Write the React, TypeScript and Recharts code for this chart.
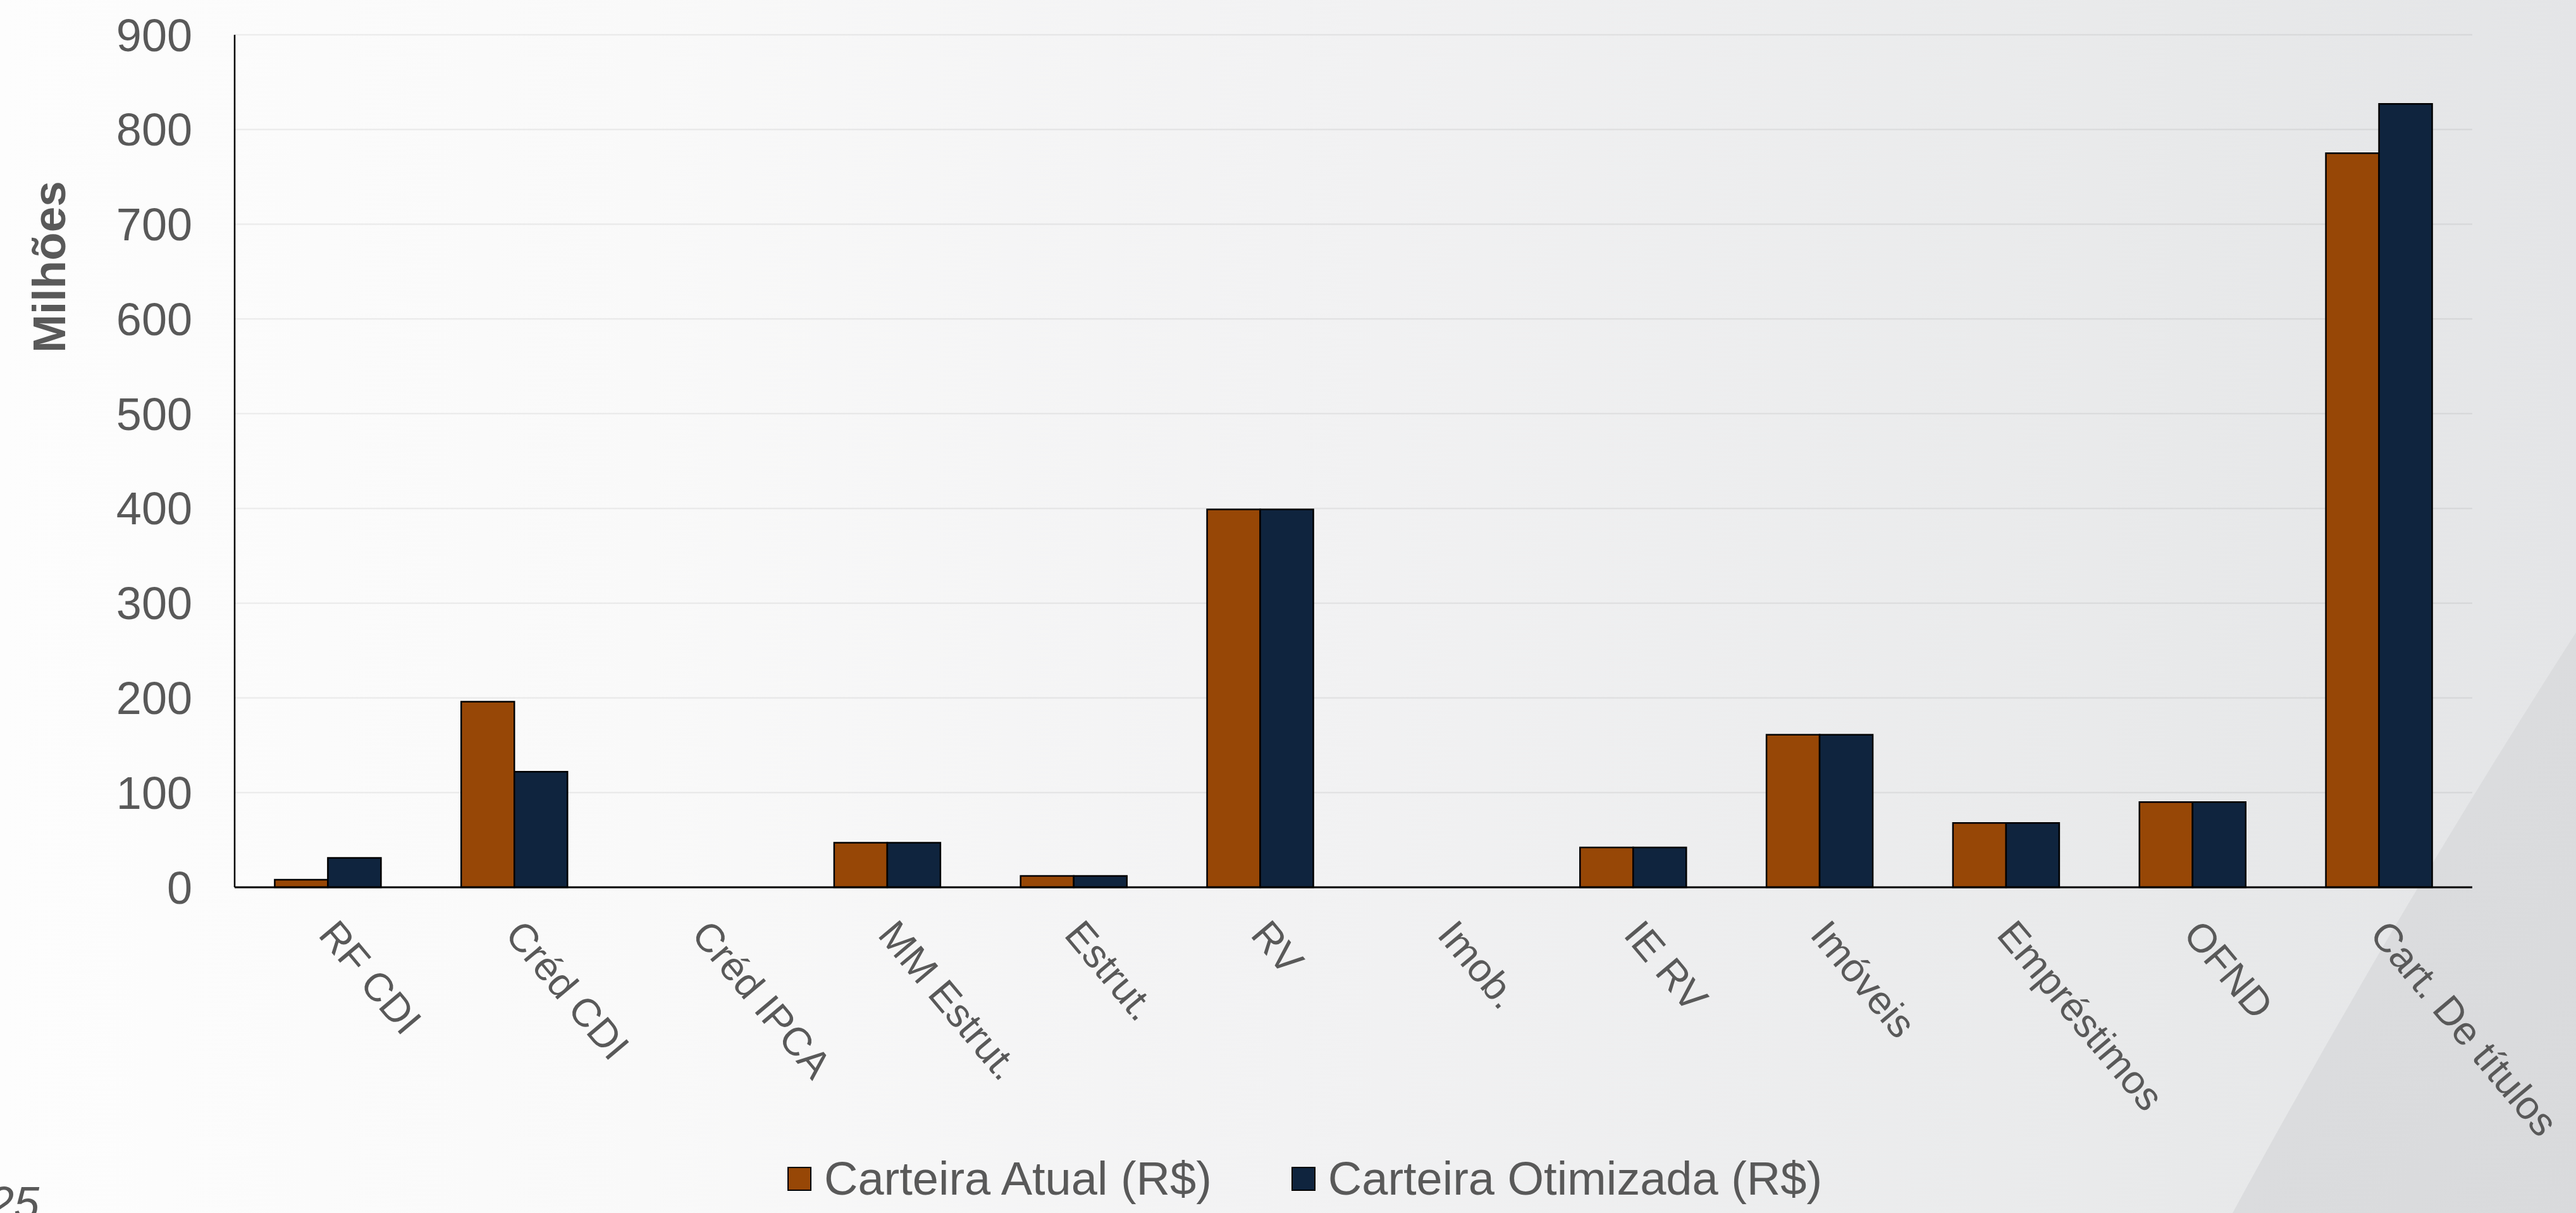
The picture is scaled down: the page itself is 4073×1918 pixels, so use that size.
import React from 'react';
import { BarChart, Bar, XAxis, YAxis, CartesianGrid } from 'recharts';

const FONT = '"Liberation Sans", Arial, Helvetica, sans-serif';
const TEXT_COLOR = '#595959';

const categories = [
  'RF CDI',
  'Créd CDI',
  'Créd IPCA',
  'MM Estrut.',
  'Estrut.',
  'RV',
  'Imob.',
  'IE RV',
  'Imóveis',
  'Empréstimos',
  'OFND',
  'Cart. De títulos',
];
const carteiraAtual = [8, 196, 0, 47, 12, 399, 0, 42, 161, 68, 90, 775];
const carteiraOtimizada = [31, 122, 0, 47, 12, 399, 0, 42, 161, 68, 90, 827];
const yTicks = [0, 100, 200, 300, 400, 500, 600, 700, 800, 900];
const seriesKeys = ['atual', 'otimizada'];
const seriesNames = ['Carteira Atual (R$)', 'Carteira Otimizada (R$)'];
const seriesColors = ['#974706', '#0F243E'];
const yAxisTitle = 'Milhões';
const pageNumber = '25';

const data = categories.map((c, i) => ({
  category: c,
  atual: carteiraAtual[i],
  otimizada: carteiraOtimizada[i],
}));

const W = 4073;
const H = 1918;

const XTick = (props: any) => {
  const { x, y, payload } = props;
  const tx = x - 17;
  const ty = y + 76;
  return (
    <text
      x={tx}
      y={ty}
      transform={`rotate(50, ${tx}, ${ty})`}
      textAnchor="start"
      fill={TEXT_COLOR}
      fontSize={63}
      fontFamily={FONT}
    >
      {payload.value}
    </text>
  );
};

const AxisTitle = () => (
  <text
    x={103}
    y={422}
    transform="rotate(-90, 103, 422)"
    textAnchor="middle"
    fill={TEXT_COLOR}
    fontSize={73}
    fontWeight="bold"
    fontFamily={FONT}
  >
    {yAxisTitle}
  </text>
);

export default function App() {
  return (
    <div
      style={{
        position: 'absolute',
        left: 0,
        top: 0,
        width: W,
        height: H,
        overflow: 'hidden',
        fontFamily: FONT,
      }}
    >
      <svg width={W} height={H} style={{ position: 'absolute', left: 0, top: 0 }}>
        <defs>
          <linearGradient id="bg" x1="0" y1="0" x2="1" y2="0">
            <stop offset="0" stopColor="#fdfdfd" />
            <stop offset="0.25" stopColor="#f9f9f9" />
            <stop offset="0.5" stopColor="#f2f2f3" />
            <stop offset="0.85" stopColor="#e8e9ea" />
            <stop offset="1" stopColor="#e4e5e7" />
          </linearGradient>
          <linearGradient id="sw" x1="0" y1="0" x2="1" y2="1">
            <stop offset="0" stopColor="#dddee0" />
            <stop offset="1" stopColor="#d9dadc" />
          </linearGradient>
        </defs>
        <rect x={0} y={0} width={W} height={H} fill="url(#bg)" />
        <path d={`M ${W} 1000 Q 3790 1440 3530 ${H} L ${W} ${H} Z`} fill="url(#sw)" />
        <text
          x={-18}
          y={1927}
          fill={TEXT_COLOR}
          fontSize={72}
          fontStyle="italic"
          fontFamily={FONT}
        >
          {pageNumber}
        </text>
      </svg>

      <div style={{ position: 'absolute', left: 0, top: 0 }}>
        <BarChart
          width={W}
          height={H}
          data={data}
          margin={{ top: 55, right: 164, left: 0, bottom: 0 }}
          barCategoryGap="21.5%"
          barGap={0}
        >
          <CartesianGrid
            vertical={false}
            stroke="#000"
            strokeOpacity={0.06}
            strokeWidth={2.5}
          />
          <XAxis
            dataKey="category"
            interval={0}
            height={515}
            tickLine={false}
            tickSize={0}
            tickMargin={0}
            axisLine={{ stroke: '#000', strokeWidth: 3 }}
            tick={XTick}
          />
          <YAxis
            width={371}
            domain={[0, 900]}
            ticks={yTicks}
            interval={0}
            tickLine={false}
            tickSize={0}
            tickMargin={67}
            axisLine={{ stroke: '#000', strokeWidth: 2.5 }}
            tick={{ fontSize: 72, fill: TEXT_COLOR, fontFamily: FONT }}
            label={<AxisTitle />}
          />
          {seriesKeys.map((k, i) => (
            <Bar
              key={k}
              dataKey={k}
              name={seriesNames[i]}
              fill={seriesColors[i]}
              stroke="#000"
              strokeWidth={2.5}
              isAnimationActive={false}
            />
          ))}
        </BarChart>
      </div>

      <div
        style={{
          position: 'absolute',
          left: 1245,
          top: 1827,
          display: 'flex',
          alignItems: 'center',
        }}
      >
        {seriesNames.map((n, i) => (
          <div
            key={n}
            style={{
              display: 'flex',
              alignItems: 'center',
              marginRight: i === 0 ? 126 : 0,
            }}
          >
            <div
              style={{
                width: 38,
                height: 38,
                boxSizing: 'border-box',
                border: '2.5px solid #000',
                background: seriesColors[i],
                marginRight: 20,
              }}
            />
            <span
              style={{
                fontSize: 74,
                lineHeight: '74px',
                color: TEXT_COLOR,
                fontFamily: FONT,
                whiteSpace: 'nowrap',
              }}
            >
              {n}
            </span>
          </div>
        ))}
      </div>
    </div>
  );
}
